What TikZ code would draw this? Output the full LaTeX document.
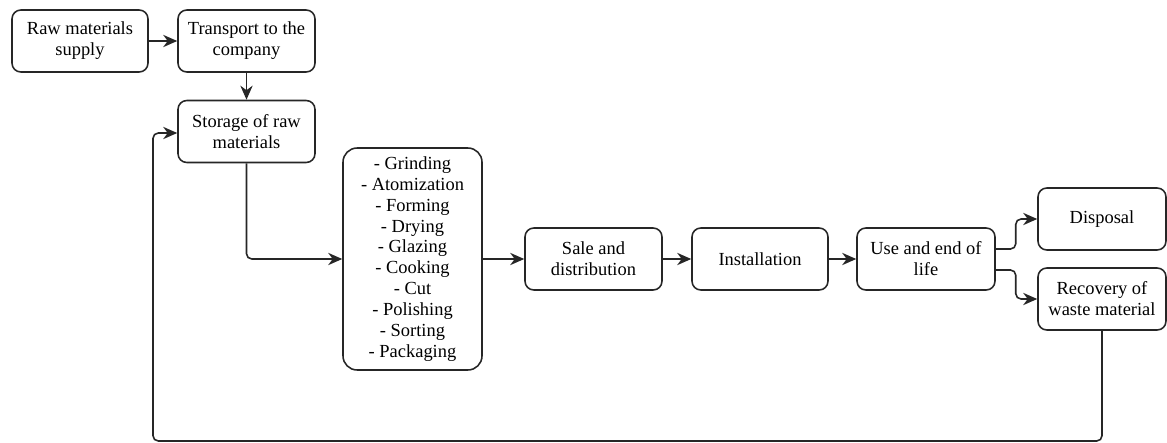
\documentclass[tikz,border=0pt]{standalone}
\usepackage{fontspec}
\setmainfont{Liberation Serif}
\usetikzlibrary{arrows.meta}
\begin{document}
\begin{tikzpicture}[x=0.02cm,y=-0.02cm,
    box/.style={draw=black!85, line width=0.9pt, rounded corners=5pt, align=center,
                font=\fontsize{10.5}{11.9}\selectfont, minimum height=1.24cm, inner sep=2pt},
    arr/.style={-{Stealth[length=8pt,width=7pt]}, line width=0.9pt, draw=black!85, rounded corners=3pt}]
    \useasboundingbox (0,0) rectangle (1167,443);
    %Approvisionnement
    \node[box, minimum width=2.72cm] (raw) at (80,41) {Raw materials\\supply};
    \node[box, minimum width=2.74cm] (trans) at (246.5,41) {Transport to the\\company};
    \node[box, minimum width=2.74cm] (store) at (246.5,131.5) {Storage of raw\\materials};
    %Production
    \node[box, rounded corners=8pt, minimum width=2.78cm, minimum height=4.44cm] (proc) at (412.5,259)
        {- Grinding\\- Atomization\\- Forming\\- Drying\\- Glazing\\- Cooking\\- Cut\\- Polishing\\- Sorting\\- Packaging};
    \node[box, minimum width=2.74cm] (sale) at (593.5,259) {Sale and\\distribution};
    \node[box, minimum width=2.72cm] (inst) at (760,259) {Installation};
    \node[box, minimum width=2.76cm] (use) at (926,259) {Use and end of\\life};
    %Fin de vie
    \node[box, minimum width=2.56cm] (disp) at (1102,219) {Disposal};
    \node[box, minimum width=2.56cm] (recov) at (1102,299) {Recovery of\\waste material};
    \coordinate (loop) at (153,441);
    \draw[arr] (raw) -- (trans);
    \draw[arr] (trans) -- (store);
    \draw[arr] (store.south) |- (proc.west);
    \draw[arr] (proc) -- (sale);
    \draw[arr] (sale) -- (inst);
    \draw[arr] (inst) -- (use);
    \draw[arr] ([yshift=0.2cm]use.east) -- ++(20,0) |- (disp.west);
    \draw[arr] ([yshift=-0.22cm]use.east) -- ++(20,0) |- (recov.west);
    \draw[arr] (recov.south) |- (loop) |- ([yshift=-0.03cm]store.west);
\end{tikzpicture}
\end{document}
